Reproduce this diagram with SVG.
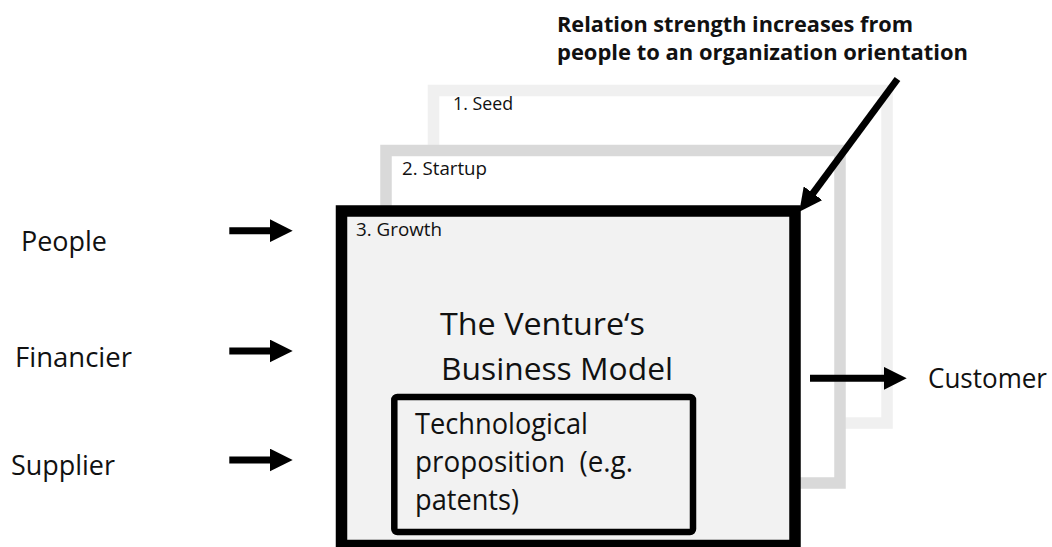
<svg xmlns="http://www.w3.org/2000/svg" width="1052" height="547" viewBox="0 0 1052 547">
<style>
  text { font-family: "Open Sans", "Liberation Sans", sans-serif; fill: #111; }
  .lbl { font-size: 27px; }
  .big { font-size: 31px; }
  .tech { font-size: 29px; }
  .stage { font-size: 18px; }
  .note { font-size: 22px; font-weight: bold; }
  .arrow { stroke: #000; stroke-width: 7; fill: none; marker-end: url(#head); }
</style>
<defs>
  <marker id="head" markerUnits="userSpaceOnUse" viewBox="0 0 23 23" markerWidth="23" markerHeight="23" refX="2" refY="11.5" orient="auto">
    <path d="M0,0 L23,11.5 L0,23 Z" fill="#000"/>
  </marker>
</defs>
<rect width="1052" height="547" fill="#fff"/>

<g id="stage-seed">
  <rect x="433.5" y="90.5" width="453.5" height="332.5" fill="#fff" stroke="#f0f0f0" stroke-width="11.5"/>
  <text class="stage" x="453" y="110" textLength="60" lengthAdjust="spacingAndGlyphs">1. Seed</text>
</g>
<g id="stage-startup">
  <rect x="386" y="150.5" width="454" height="332.5" fill="#fff" stroke="#d9d9d9" stroke-width="11.5"/>
  <text class="stage" x="402" y="175" textLength="85" lengthAdjust="spacingAndGlyphs">2. Startup</text>
</g>
<g id="stage-growth">
  <rect x="341.5" y="211" width="453.5" height="334.5" fill="#f2f2f2" stroke="#000" stroke-width="11.5"/>
  <text class="stage" x="356" y="236" textLength="86" lengthAdjust="spacingAndGlyphs">3. Growth</text>
  <text class="big" x="440" y="335" textLength="205" lengthAdjust="spacingAndGlyphs">The Venture‘s</text>
  <text class="big" x="441" y="380" textLength="232" lengthAdjust="spacingAndGlyphs">Business Model</text>
</g>
<g id="tech-proposition">
  <rect x="394.3" y="397" width="298.7" height="135" rx="3" fill="#f2f2f2" stroke="#000" stroke-width="6.5"/>
  <text class="tech" x="415" y="434" textLength="173" lengthAdjust="spacingAndGlyphs">Technological</text>
  <text class="tech" x="415" y="472" textLength="218" lengthAdjust="spacingAndGlyphs" xml:space="preserve">proposition  (e.g.</text>
  <text class="tech" x="415" y="510" textLength="104" lengthAdjust="spacingAndGlyphs">patents)</text>
</g>

<g id="people"><text class="lbl" x="21" y="251" textLength="86" lengthAdjust="spacingAndGlyphs">People</text></g>
<g id="financier"><text class="lbl" x="15" y="367" textLength="117" lengthAdjust="spacingAndGlyphs">Financier</text></g>
<g id="supplier"><text class="lbl" x="11" y="475" textLength="104" lengthAdjust="spacingAndGlyphs">Supplier</text></g>
<g id="customer"><text class="lbl" x="928" y="388" textLength="119" lengthAdjust="spacingAndGlyphs">Customer</text></g>
<g id="note">
  <text class="note" x="557" y="32" textLength="356" lengthAdjust="spacingAndGlyphs">Relation strength increases from</text>
  <text class="note" x="557" y="60" textLength="411" lengthAdjust="spacingAndGlyphs">people to an organization orientation</text>
</g>

<g id="connectors">
  <line class="arrow" x1="229.3" y1="230.7" x2="271.7" y2="230.7"/>
  <line class="arrow" x1="229.3" y1="351" x2="271.7" y2="351"/>
  <line class="arrow" x1="229.3" y1="460" x2="271.7" y2="460"/>
  <line class="arrow" x1="810" y1="378.3" x2="885.7" y2="378.3"/>
  <line class="arrow" x1="897.5" y1="79" x2="811.8" y2="194.8"/>
</g>
</svg>
